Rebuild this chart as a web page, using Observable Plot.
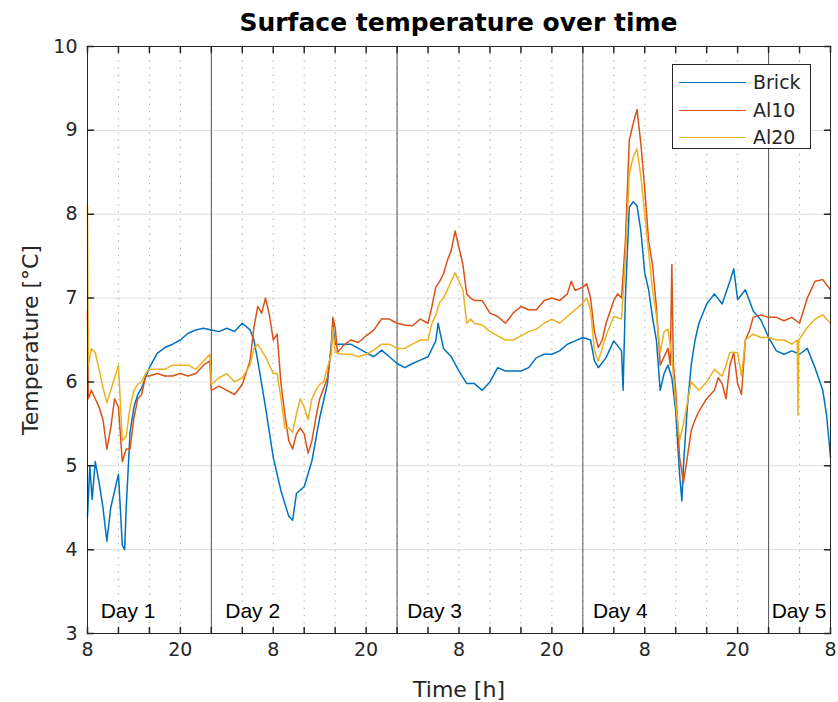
<!DOCTYPE html>
<html><head><meta charset="utf-8">
<script src="https://cdn.jsdelivr.net/npm/d3@7"></script>
<script src="https://cdn.jsdelivr.net/npm/@observablehq/plot@0.6"></script>
<style>
body{margin:0;background:#fff;font-family:"DejaVu Sans",sans-serif;}
#wrap{position:relative;width:838px;height:702px;overflow:hidden;background:#fff;}
#title{position:absolute;left:87px;width:743px;top:0;height:38px;text-align:center;font-weight:bold;font-size:25px;line-height:46px;color:#000;white-space:nowrap;}
#chart{position:absolute;left:0;top:24px;}
#legend{position:absolute;left:672px;top:64px;width:137px;height:83px;border:1px solid #262626;background:#fff;}
.entry{position:absolute;left:0;height:27px;width:137px;}
.entry .sw{position:absolute;left:6px;width:67px;top:13px;height:0;border-top:1.5px solid;}
.entry .lb{position:absolute;left:80px;top:0;line-height:27px;font-size:19px;color:#262626;}
</style></head>
<body>
<div id="wrap">
  <div id="chart"></div>
  <div id="title">Surface temperature over time</div>
  <div id="legend"></div>
</div>
<script>
// hours since 08:00 of Day 1, temperature in °C
const brick = [[0,4.4],[0.3,5.0],[0.6,4.6],[1,5.05],[1.5,4.8],[2,4.5],[2.5,4.1],[3,4.5],[3.5,4.7],[4,4.9],[4.5,4.05],[4.8,4.0],[5,4.5],[5.5,5.4],[6,5.7],[6.5,5.85],[7,5.93],[8,6.17],[9,6.34],[10,6.41],[11,6.45],[12,6.5],[13,6.58],[14,6.62],[15,6.64],[16,6.62],[17,6.6],[18,6.64],[19,6.6],[20,6.7],[21,6.62],[21.5,6.5],[22,6.25],[23,5.7],[24,5.1],[25,4.7],[26,4.4],[26.5,4.35],[27,4.67],[28,4.75],[29,5.06],[30,5.57],[31,5.98],[31.5,6.45],[31.7,6.7],[32,6.45],[33,6.45],[34,6.45],[35,6.4],[36,6.35],[37,6.3],[38,6.38],[39,6.3],[40,6.22],[41,6.17],[42,6.22],[43,6.26],[44,6.3],[45,6.49],[45.3,6.7],[46,6.4],[47,6.3],[48,6.13],[49,5.98],[50,5.98],[51,5.9],[52,6.0],[53,6.17],[54,6.13],[55,6.13],[56,6.13],[57,6.17],[58,6.29],[59,6.33],[60,6.33],[61,6.37],[62,6.45],[63,6.49],[64,6.53],[65,6.5],[65.5,6.25],[66,6.17],[67,6.29],[68,6.49],[69,6.37],[69.2,5.9],[69.5,7.0],[70,8.08],[70.5,8.15],[71,8.1],[71.5,7.8],[72,7.3],[72.5,7.1],[73,6.77],[73.5,6.5],[74,5.9],[74.5,6.1],[75,6.2],[75.5,6.05],[76,5.65],[76.5,4.9],[76.8,4.58],[77,5.0],[77.5,5.7],[78,6.2],[78.5,6.5],[79,6.7],[80,6.93],[81,7.05],[82,6.93],[83,7.2],[83.5,7.35],[84,6.98],[85,7.1],[86,6.85],[87,6.74],[88,6.53],[89,6.37],[90,6.33],[91,6.37],[92,6.33],[93,6.4],[94,6.17],[95,5.9],[95.5,5.6],[96,5.1]];
const al10 = [[0,6.85],[0.1,5.8],[0.5,5.9],[1,5.8],[1.5,5.7],[2,5.55],[2.5,5.2],[3,5.45],[3.5,5.8],[4,5.7],[4.5,5.05],[5,5.2],[5.5,5.2],[6,5.57],[6.5,5.8],[7,5.85],[7.5,6.07],[8,6.07],[9,6.1],[10,6.07],[11,6.07],[12,6.1],[13,6.07],[14,6.1],[15,6.2],[15.8,6.25],[16,5.9],[17,5.95],[18,5.9],[19,5.85],[20,5.97],[21,6.25],[21.5,6.65],[22,6.9],[22.5,6.82],[23,7.0],[23.5,6.8],[24,6.5],[24.5,6.57],[25,5.98],[25.5,5.62],[26,5.3],[26.5,5.2],[27,5.38],[27.5,5.45],[28,5.38],[28.5,5.15],[29,5.3],[29.5,5.57],[30,5.8],[30.5,5.92],[31,6.05],[31.5,6.4],[31.7,6.77],[32,6.65],[32.3,6.35],[33,6.43],[34,6.5],[35,6.47],[36,6.55],[37,6.62],[38,6.75],[39,6.75],[40,6.7],[41,6.68],[42,6.67],[43,6.75],[44,6.7],[44.5,6.9],[45,7.13],[45.5,7.2],[46,7.29],[46.5,7.45],[47,7.57],[47.5,7.8],[48,7.6],[48.5,7.4],[49,7.05],[49.5,7.0],[50,6.97],[51,6.97],[52,6.82],[53,6.78],[54,6.7],[55,6.82],[56,6.9],[57,6.86],[58,6.86],[59,6.97],[60,7.0],[61,6.97],[62,7.05],[62.5,7.2],[63,7.09],[64,7.13],[64.5,7.17],[65,7.0],[65.5,6.6],[66,6.41],[66.5,6.5],[67,6.7],[68,6.97],[68.5,7.05],[69,7.0],[69.5,7.68],[70,8.88],[70.5,9.08],[71,9.25],[71.5,8.84],[72,8.3],[72.5,7.68],[73,7.4],[73.5,6.9],[74,6.2],[74.5,6.3],[75,6.4],[75.3,6.2],[75.5,7.4],[75.7,6.2],[76,5.9],[76.5,5.1],[77,4.8],[77.5,5.1],[78,5.42],[78.5,5.55],[79,5.65],[80,5.8],[81,5.9],[81.5,6.05],[82,5.98],[82.5,5.8],[83,6.2],[83.5,6.35],[84,5.98],[84.5,5.85],[85,6.5],[85.5,6.6],[86,6.77],[87,6.8],[88,6.77],[89,6.77],[90,6.73],[91,6.77],[92,6.7],[93,7.0],[94,7.2],[95,7.22],[96,7.1]];
const al20 = [[0,8.1],[0.1,6.2],[0.5,6.4],[1,6.35],[1.5,6.15],[2,5.93],[2.5,5.75],[3,5.9],[3.5,6.05],[4,6.2],[4.5,5.3],[5,5.35],[5.5,5.7],[6,5.9],[6.5,5.97],[7,6.0],[7.5,6.1],[8,6.15],[9,6.15],[10,6.15],[11,6.2],[12,6.2],[13,6.2],[14,6.15],[15,6.25],[15.8,6.33],[16,5.97],[17,6.05],[18,6.1],[19,6.0],[20,6.05],[21,6.2],[21.5,6.4],[22,6.45],[23,6.3],[24,6.1],[24.5,6.1],[25,5.8],[25.5,5.45],[26,5.45],[26.5,5.4],[27,5.62],[27.5,5.8],[28,5.7],[28.5,5.55],[29,5.8],[29.5,5.9],[30,5.97],[30.5,6.0],[31,6.17],[31.5,6.33],[31.7,6.65],[32,6.35],[33,6.33],[34,6.33],[35,6.3],[36,6.33],[37,6.38],[38,6.45],[39,6.45],[40,6.4],[41,6.4],[42,6.45],[43,6.5],[44,6.5],[44.5,6.7],[45,6.8],[45.5,6.95],[46,7.0],[46.5,7.1],[47,7.2],[47.5,7.3],[48,7.2],[48.5,7.1],[49,6.7],[49.5,6.75],[50,6.7],[51,6.68],[52,6.6],[53,6.55],[54,6.5],[55,6.5],[56,6.55],[57,6.6],[58,6.63],[59,6.7],[60,6.75],[61,6.7],[62,6.78],[63,6.86],[64,6.94],[64.5,7.0],[65,6.86],[65.5,6.37],[66,6.25],[66.5,6.4],[67,6.55],[68,6.78],[69,6.75],[69.5,7.47],[70,8.48],[70.5,8.68],[71,8.78],[71.5,8.45],[72,8.0],[72.5,7.55],[73,7.1],[73.5,6.8],[74,6.35],[74.5,6.6],[75,6.63],[75.5,6.3],[76,5.75],[76.5,5.3],[77,5.5],[77.5,5.75],[78,6.0],[78.5,5.95],[79,5.9],[80,6.0],[81,6.15],[82,6.07],[82.5,6.2],[83,6.35],[84,6.35],[84.5,6.07],[85,6.5],[86,6.57],[87,6.53],[88,6.53],[89,6.5],[90,6.5],[91,6.45],[91.7,6.5],[91.8,5.6],[91.9,6.5],[93,6.65],[94,6.75],[95,6.8],[96,6.7]];

const seriesNames = ["Brick", "Al10", "Al20"];
const seriesColors = ["#0072BD", "#D95319", "#EDB120"];
const seriesData = [brick, al10, al20];

const midnights = [16, 40, 64, 88];
const dayLabels = ["Day 1", "Day 2", "Day 3", "Day 4", "Day 5"];
const dayLabelTime = [1.7, 17.8, 41.3, 65.3, 88.4];
const xMinorTicks = d3.range(0, 97, 4);
const xLabelTicks = d3.range(0, 97, 12);
const yTicks = [3, 4, 5, 6, 7, 8, 9, 10];
const startHour = 8;

const ink = "#262626";
const tickShape = {draw(context, l) { context.moveTo(0, 0); context.lineTo(0, -l); }};

const chart = Plot.plot({
  width: 838, height: 678,
  marginTop: 22, marginBottom: 69, marginLeft: 87, marginRight: 8,
  style: {fontFamily: "DejaVu Sans", background: "transparent", color: ink, overflow: "visible"},
  x: {domain: [0, 96]},
  y: {domain: [3, 10]},
  marks: [
    Plot.gridY(yTicks.slice(1, -1), {stroke: "#dedede", strokeOpacity: 1}),
    Plot.ruleX(xMinorTicks, {stroke: "#a8a8a8", strokeDasharray: "1.3,5.9"}),
    Plot.text(dayLabels, {x: (d, i) => dayLabelTime[i], y: 3.27, text: d => d, textAnchor: "start", lineAnchor: "middle",
      fontFamily: "Liberation Sans, Arial, sans-serif", fontSize: 21, fill: "black", stroke: "white", strokeWidth: 7}),
    Plot.ruleX(midnights, {stroke: "#555555", strokeWidth: 1}),
    ...seriesData.map((s, i) => Plot.line(s, {x: d => d[0], y: d => d[1], stroke: seriesColors[i], strokeWidth: 1.5})),
    Plot.frame({stroke: ink}),
    Plot.vector(xMinorTicks, {x: d => d, y: 3, length: 6, anchor: "start", shape: tickShape, stroke: ink}),
    Plot.vector(xMinorTicks, {x: d => d, y: 10, length: 6, rotate: 180, anchor: "start", shape: tickShape, stroke: ink}),
    Plot.vector(yTicks, {x: 0, y: d => d, length: 6, rotate: 90, anchor: "start", shape: tickShape, stroke: ink}),
    Plot.vector(yTicks, {x: 96, y: d => d, length: 6, rotate: -90, anchor: "start", shape: tickShape, stroke: ink}),
    Plot.axisX(xLabelTicks, {tickSize: 0, tickPadding: 9, tickFormat: d => String((startHour + d) % 24), fontSize: 19, fill: ink, label: null}),
    Plot.axisY(yTicks, {tickSize: 0, tickPadding: 10, tickFormat: d => String(d), fontSize: 19, fill: ink, label: null}),
    Plot.text(["Time [h]"], {frameAnchor: "bottom", dy: 56, textAnchor: "middle", lineAnchor: "middle", text: d => d, fontSize: 22, fill: ink}),
    Plot.text(["Temperature [°C]"], {frameAnchor: "left", dx: -57, rotate: -90, textAnchor: "middle", lineAnchor: "middle", text: d => d, fontSize: 22, fill: ink})
  ]
});
document.getElementById("chart").appendChild(chart);

const legend = document.getElementById("legend");
seriesNames.forEach((name, i) => {
  const e = document.createElement("div");
  e.className = "entry";
  e.style.top = (4 + i * 27.5) + "px";
  e.innerHTML = `<div class="sw" style="border-top-color:${seriesColors[i]}"></div><div class="lb">${name}</div>`;
  legend.appendChild(e);
});
</script>
</body></html>
